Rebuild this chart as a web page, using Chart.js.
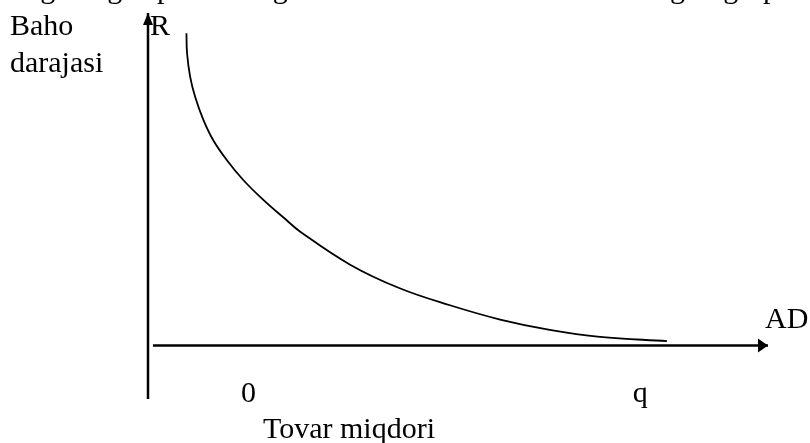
<!DOCTYPE html>
<html>
<head>
<meta charset="utf-8">
<script src="https://cdn.jsdelivr.net/npm/chart.js@4"></script>
<style>
  html, body { margin: 0; padding: 0; background: #fff; }
  #wrap { width: 810px; height: 443px; }
</style>
</head>
<body>
<div id="wrap"><canvas id="chart"></canvas></div>
<script>
// AD curve (quantity on x, price level on y)
const quantity   = [6.2, 6.3, 6.8, 7.6, 8.9, 10.5, 12.7, 15.4, 18.6, 22.1, 24.5, 32.6, 40.6, 48.7, 56.8, 64.8, 72.9, 83.7];
const priceLevel = [93.9, 87.9, 80.8, 74.8, 68.0, 61.8, 55.8, 49.7, 43.8, 38.1, 34.3, 24.3, 17.2, 12.1, 7.8, 4.7, 2.6, 1.3];

// marks under the quantity axis
const xTickValues = [16.2, 79.4];
const xTickLabels = ['0', 'q'];

const curveLabel = 'AD';
const yAxisTitle = ['Baho', 'darajasi'];
const yAxisSymbol = 'R';
const xAxisTitle = 'Tovar miqdori';

// line of text above the chart, cut off by the top edge
const topWords = ['Eng', 'egri', 'past', 'ketganda', 'talab', 'va', 'narx', "o'rtasida", "bog'", 'egri', 'pastga'];

const xMin = 0, xMax = 100;
const yMin = -16.1, yMax = 100;

const FONT = '30px "Liberation Serif", "Times New Roman", serif';

// draw a filled arrow head at the last point of datasets that ask for one
const arrowHeads = {
  id: 'arrowHeads',
  afterDatasetsDraw(chart) {
    const ctx = chart.ctx;
    chart.data.datasets.forEach((ds, i) => {
      if (!ds.arrow) return;
      const pts = chart.getDatasetMeta(i).data;
      const a = pts[pts.length - 2], b = pts[pts.length - 1];
      const ang = Math.atan2(b.y - a.y, b.x - a.x);
      const len = ds.arrow.len, half = ds.arrow.half;
      ctx.save();
      ctx.translate(b.x, b.y);
      ctx.rotate(ang);
      ctx.beginPath();
      ctx.moveTo(0, 0);
      ctx.lineTo(-len, -half);
      ctx.lineTo(-len, half);
      ctx.closePath();
      ctx.fillStyle = '#000';
      ctx.fill();
      ctx.restore();
    });
  }
};

// all the words on the picture
const textLabels = {
  id: 'textLabels',
  afterDraw(chart) {
    const ctx = chart.ctx;
    const xs = chart.scales.x, ys = chart.scales.y;
    ctx.save();
    ctx.font = FONT;
    ctx.fillStyle = '#000';
    ctx.textBaseline = 'alphabetic';

    // clipped line at the very top
    const wordX = [7, 94, 157, 236, 355, 423, 461, 524, 640, 710, 763];
    ctx.textAlign = 'left';
    topWords.forEach((w, i) => ctx.fillText(w, wordX[i], -2.5));

    // y axis title and symbol
    ctx.fillText(yAxisTitle[0], 10, 35);
    ctx.fillText(yAxisTitle[1], 10, 72);
    ctx.fillText(yAxisSymbol, xs.getPixelForValue(0) + 2, 35);

    // curve name next to the x arrow
    ctx.fillText(curveLabel, xs.getPixelForValue(xMax) - 3, ys.getPixelForValue(0) - 17);

    // marks under the x axis
    ctx.textAlign = 'center';
    xTickValues.forEach((v, i) => {
      ctx.fillText(xTickLabels[i], xs.getPixelForValue(v), ys.getPixelForValue(0) + 57);
    });

    // x axis title
    ctx.textAlign = 'left';
    ctx.fillText(xAxisTitle, 263, 438);
    ctx.restore();
  }
};

const ctx = document.getElementById('chart').getContext('2d');

new Chart(ctx, {
  type: 'scatter',
  data: {
    datasets: [
      {
        label: curveLabel,
        data: quantity.map((q, i) => ({ x: q, y: priceLevel[i] })),
        showLine: true,
        borderColor: '#000',
        borderWidth: 1.8,
        pointRadius: 0,
        tension: 0.4
      },
      {
        label: 'price axis',
        data: [{ x: xMin, y: yMin }, { x: xMin, y: yMax }],
        showLine: true,
        clip: false,
        borderColor: '#000',
        borderWidth: 2.5,
        pointRadius: 0,
        arrow: { len: 12, half: 5 }
      },
      {
        label: 'quantity axis',
        data: [{ x: 0.8, y: 0 }, { x: xMax, y: 0 }],
        showLine: true,
        clip: false,
        borderColor: '#000',
        borderWidth: 2.5,
        pointRadius: 0,
        arrow: { len: 10, half: 7 }
      }
    ]
  },
  options: {
    responsive: true,
    maintainAspectRatio: false,
    animation: false,
    layout: { padding: { left: 148, right: 42, top: 13, bottom: 44 } },
    scales: {
      x: { type: 'linear', display: false, min: xMin, max: xMax },
      y: { type: 'linear', display: false, min: yMin, max: yMax }
    },
    plugins: {
      legend: { display: false },
      tooltip: { enabled: false }
    }
  },
  plugins: [arrowHeads, textLabels]
});
</script>
</body>
</html>
